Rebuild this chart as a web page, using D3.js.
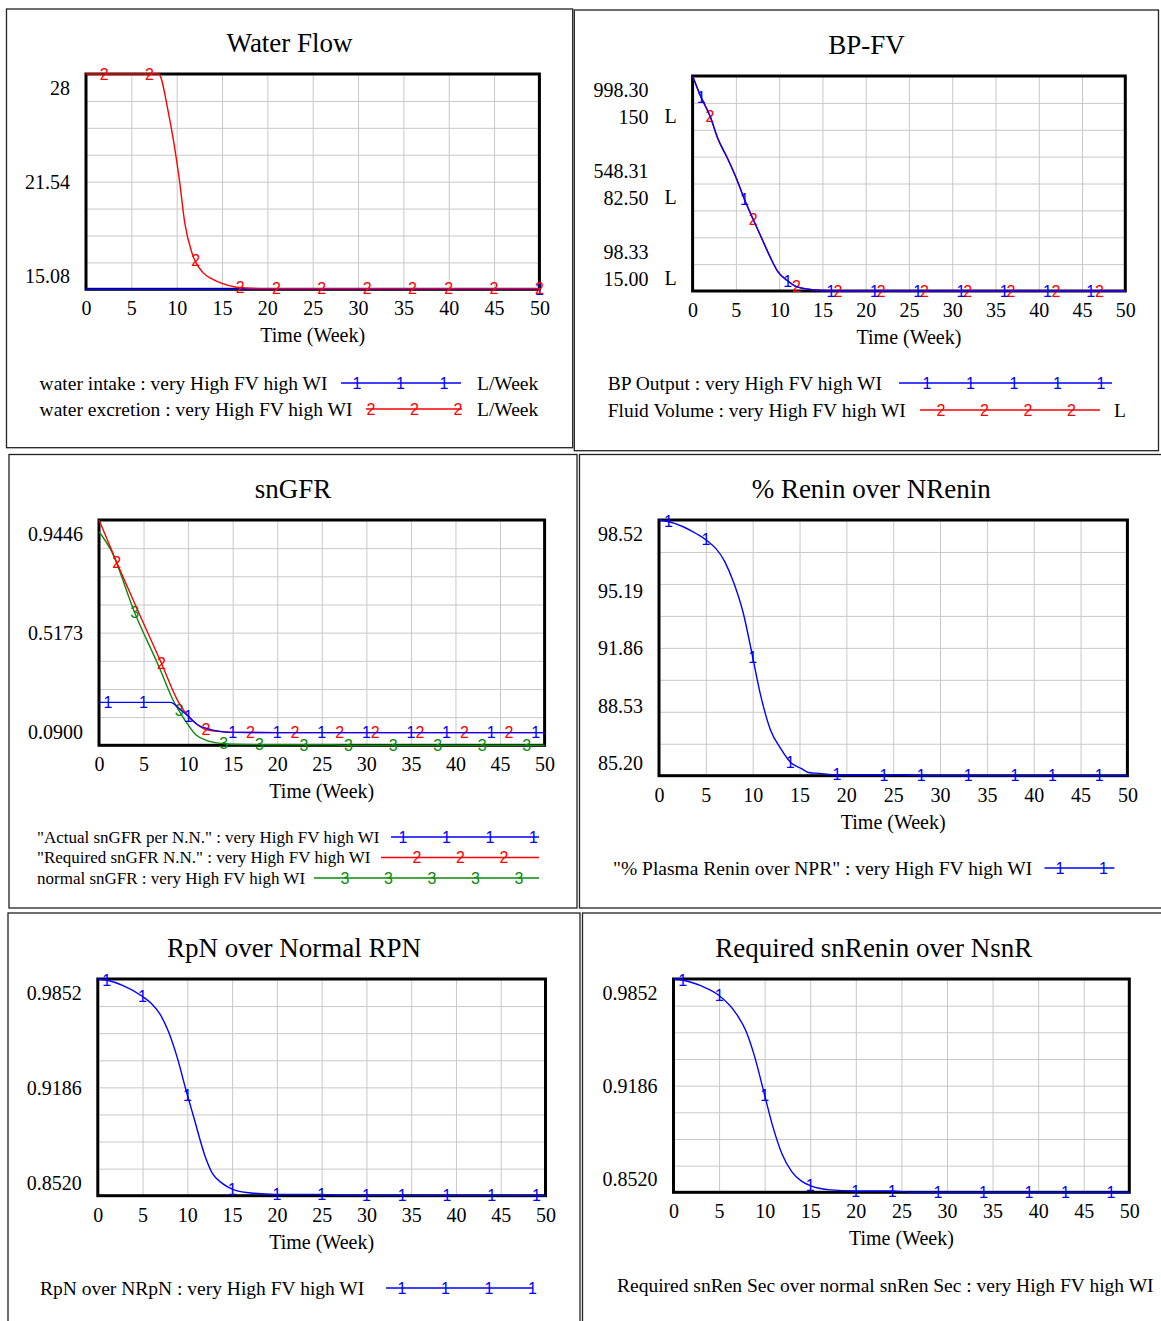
<!DOCTYPE html>
<html>
<head>
<meta charset="utf-8">
<title>Very High FV high WI runs</title>
<script src="https://cdn.jsdelivr.net/npm/d3@7"></script>
<style>
  body { margin: 0; background: #fff; }
</style>
</head>
<body>
<svg id="mainsvg" width="1161" height="1321"></svg>
<script>
// ---- data ----
const weekTicks = [0, 5, 10, 15, 20, 25, 30, 35, 40, 45, 50];

// Water Flow (L/Week)
const waterTickLabels = ["15.08", "21.54", "28"];
const intakeWeeks = [0, 10, 20, 30, 40, 50];
const intakeVals = [15.08, 15.08, 15.08, 15.08, 15.08, 15.08];
const intakeMarks = [50];
const excretionWeeks = [0, 8, 9.1, 9.7, 10.3, 10.9, 11.7, 12.9, 14, 15, 16.6, 18, 20, 30, 40, 50];
const excretionVals = [28, 28, 25.64, 23.84, 21.64, 19.04, 17.24, 16.08, 15.68, 15.44, 15.2, 15.14, 15.12, 15.12, 15.12, 15.12];
const excretionMarks = [2, 7, 12.1, 17, 21, 26, 31, 36, 40, 45, 50];

// BP-FV
const bpTickLabels = ["98.33", "548.31", "998.30"];
const fvTickLabels = ["15.00", "82.50", "150"];
const bpWeeks = [0, 0.95, 2.04, 2.9, 4.0, 5.1, 5.95, 7.03, 8.1, 9.0, 9.85, 10.9, 12.0, 13.8, 16, 20, 30, 40, 50];
const bpVals = [998.3, 911.9, 828.2, 737.3, 656.3, 566.3, 485.3, 395.3, 309.8, 237.8, 179.3, 143.3, 116.3, 103.7, 99.2, 98.33, 98.33, 98.33, 98.33];
const bpMarks = [1, 6, 11, 16, 21, 26, 31, 36, 41, 46];
const fvWeeks = [0, 0.95, 2.04, 2.9, 4.0, 5.1, 5.95, 7.03, 8.1, 9.0, 9.85, 10.9, 12.0, 13.8, 16, 20, 30, 40, 50];
const fvVals = [150, 137.0, 124.5, 110.9, 98.7, 85.2, 73.1, 59.6, 46.7, 35.9, 27.2, 21.8, 17.7, 15.8, 15.1, 15, 15, 15, 15];
const fvMarks = [2, 7, 12, 16.8, 21.8, 26.8, 31.8, 36.8, 42, 47];

// snGFR
const gfrTickLabels = ["0.0900", "0.5173", "0.9446"];
const actualWeeks = [0, 8, 9.2, 10.05, 11.1, 12.1, 13.5, 15, 20, 30, 40, 50];
const actualVals = [0.253, 0.253, 0.224, 0.199, 0.167, 0.154, 0.143, 0.139, 0.138, 0.138, 0.138, 0.138];
const actualMarks = [1, 5, 10, 15, 20, 25, 30, 35, 39, 44, 49];
const requiredWeeks = [0, 1.95, 4.24, 6.93, 9.0, 10.05, 11.1, 11.9, 13.8, 15, 20, 30, 40, 50];
const requiredVals = [0.9446, 0.787, 0.61, 0.407, 0.249, 0.199, 0.167, 0.151, 0.142, 0.139, 0.138, 0.138, 0.138, 0.138];
const requiredMarks = [2, 7, 12, 17, 22, 27, 31, 36, 41, 46];
const normalWeeks = [0, 1.33, 4.03, 6.73, 8.39, 9.63, 10.9, 12.1, 13.8, 16, 20, 26, 28, 40, 50];
const normalVals = [0.9, 0.831, 0.591, 0.388, 0.256, 0.186, 0.129, 0.108, 0.097, 0.093, 0.092, 0.092, 0.09, 0.09, 0.09];
const normalMarks = [4, 9, 14, 18, 23, 28, 33, 38, 43, 48];

// % Renin over NRenin
const reninTickLabels = ["85.20", "88.53", "91.86", "95.19", "98.52"];
const reninWeeks = [0, 1.07, 4.05, 5.04, 7.02, 8.0, 9.0, 9.92, 10.8, 11.9, 12.98, 14.05, 15.16, 15.95, 17.1, 19.1, 25.9, 27.9, 50];
const reninVals = [98.52, 98.43, 97.79, 97.48, 96.35, 95.22, 93.66, 91.57, 89.49, 87.58, 86.62, 85.89, 85.58, 85.37, 85.32, 85.25, 85.25, 85.2, 85.2];
const reninMarks = [1, 5, 10, 14, 19, 24, 28, 33, 38, 42, 47];

// RpN over Normal RPN
const rpnTickLabels = ["0.8520", "0.9186", "0.9852"];
const rpnWeeks = [0, 1.04, 2.83, 5.04, 5.96, 7, 7.9, 8.9, 9.9, 10.75, 12, 12.8, 13.9, 15, 16.6, 19.9, 24.9, 27, 50];
const rpnVals = [0.9852, 0.9844, 0.9811, 0.9743, 0.9703, 0.9631, 0.9528, 0.9364, 0.9159, 0.8996, 0.876, 0.8657, 0.8596, 0.8561, 0.854, 0.8528, 0.8528, 0.8522, 0.852];
const rpnMarks = [1, 5, 10, 15, 20, 25, 30, 34, 39, 44, 49];

// Required snRenin over NsnR
const snrTickLabels = ["0.8520", "0.9186", "0.9852"];
const snrWeeks = [0, 0.94, 2.98, 4.93, 6.85, 7.95, 8.9, 9.9, 10.9, 11.87, 12.97, 14, 15, 17.25, 19.9, 24, 26.2, 50];
const snrVals = [0.9852, 0.9846, 0.981, 0.9752, 0.9638, 0.9527, 0.9367, 0.9149, 0.893, 0.8764, 0.8649, 0.8591, 0.8562, 0.8535, 0.8528, 0.8528, 0.852, 0.852];
const snrMarks = [1, 5, 10, 15, 20, 24, 29, 34, 39, 43, 48];

const BLUE = "#0000ff", RED = "#ff0000", GREEN = "#0a8a0a";
const SERIF = "'Liberation Serif', 'Times New Roman', serif";
const SANS = "'Liberation Sans', Arial, sans-serif";
const MARK_FS = 16;

const svg = d3.select("#mainsvg");

// value on a series at week t (for placing the number markers)
function valueAt(weeks, vals, t) {
    const i = Math.max(1, Math.min(weeks.length - 1, d3.bisectLeft(weeks, t)));
    const t0 = weeks[i - 1], t1 = weeks[i];
    const k = t1 === t0 ? 0 : (t - t0) / (t1 - t0);
    return vals[i - 1] + k * (vals[i] - vals[i - 1]);
}

function drawPanel(cfg) {
    const g = svg.append("g");
    const p = cfg.plot;
    const [bx0, by0, bx1, by1] = cfg.box;

    g.append("rect")
        .attr("x", bx0).attr("y", by0)
        .attr("width", bx1 - bx0).attr("height", by1 - by0)
        .attr("fill", "none").attr("stroke", "#222").attr("stroke-width", 1.3);

    g.append("text")
        .attr("x", (bx0 + bx1) / 2).attr("y", p.t - 31).attr("dy", "0.35em")
        .attr("text-anchor", "middle")
        .attr("font-family", SERIF).attr("font-size", 27)
        .text(cfg.title);

    const x = d3.scaleLinear([0, 50], [p.l, p.r]);
    const y = d3.scaleLinear(cfg.domain, [p.b, p.t]);
    const [d0, d1] = cfg.domain;
    const levels = d3.range(9).map(i => d0 + i * (d1 - d0) / 8);

    // grid
    g.append("g")
        .attr("transform", `translate(0,${p.b})`)
        .call(d3.axisBottom(x).tickValues(weekTicks).tickSize(-(p.b - p.t)).tickFormat(""))
        .call(a => a.select(".domain").remove())
        .call(a => a.selectAll("line").attr("stroke", "#c8c8c8").attr("stroke-width", 1));
    g.append("g")
        .attr("transform", `translate(${p.l},0)`)
        .call(d3.axisLeft(y).tickValues(levels).tickSize(-(p.r - p.l)).tickFormat(""))
        .call(a => a.select(".domain").remove())
        .call(a => a.selectAll("line").attr("stroke", "#c8c8c8").attr("stroke-width", 1));

    // x tick labels
    g.append("g")
        .attr("transform", `translate(0,${p.b})`)
        .call(d3.axisBottom(x).tickValues(weekTicks).tickSize(0).tickFormat(d3.format("d")))
        .call(a => a.select(".domain").remove())
        .call(a => a.selectAll("text")
            .attr("y", 19).attr("dy", "0.35em")
            .attr("font-family", SERIF).attr("font-size", 20).attr("fill", "#000"));

    g.append("text")
        .attr("x", (p.l + p.r) / 2).attr("y", p.b + 46).attr("dy", "0.35em")
        .attr("text-anchor", "middle")
        .attr("font-family", SERIF).attr("font-size", 20)
        .text("Time (Week)");

    // y tick labels: top one hangs below the top edge, bottom one sits above the bottom edge
    cfg.yLabels.forEach(lab => {
        const ys = d3.scaleLinear(lab.domain, [p.b, p.t]);
        const span = lab.domain[1] - lab.domain[0];
        const off = d => lab.k * (2 * (d - lab.domain[0]) / span - 1) + lab.shift;
        const ax = g.append("g")
            .attr("transform", `translate(${p.l},0)`)
            .call(d3.axisLeft(ys).tickValues(lab.labels.map(Number))
                .tickFormat((d, i) => lab.labels[i]).tickSize(0).tickPadding(lab.pad))
            .call(a => a.select(".domain").remove());
        ax.selectAll("text")
            .attr("dy", d => off(d) + 7)
            .attr("font-family", SERIF).attr("font-size", 20).attr("fill", "#000");
        if (lab.unit) {
            lab.labels.forEach(s => {
                g.append("text")
                    .attr("x", p.l - 28).attr("y", ys(+s) + off(+s) + 7)
                    .attr("font-family", SERIF).attr("font-size", 20)
                    .text(lab.unit);
            });
        }
    });

    // frame
    g.append("rect")
        .attr("x", p.l).attr("y", p.t)
        .attr("width", p.r - p.l).attr("height", p.b - p.t)
        .attr("fill", "none").attr("stroke", "#000").attr("stroke-width", 3);

    // series
    cfg.series.forEach(s => {
        const ys = s.domain ? d3.scaleLinear(s.domain, [p.b, p.t]) : y;
        const pts = s.weeks.map((w, i) => [w, s.vals[i]]);
        g.append("path")
            .datum(pts)
            .attr("fill", "none").attr("stroke", s.color).attr("stroke-width", 1.4)
            .attr("d", d3.line().x(d => x(d[0])).y(d => ys(d[1])).curve(d3.curveMonotoneX));
        g.append("g").selectAll("text")
            .data(s.marks)
            .join("text")
            .attr("x", t => x(t))
            .attr("y", t => ys(valueAt(s.weeks, s.vals, t)))
            .attr("dy", "0.36em")
            .attr("text-anchor", "middle")
            .attr("font-family", SANS).attr("font-size", MARK_FS)
            .attr("fill", s.color)
            .text(s.sym);
    });

    // legend
    const lg = cfg.legend;
    lg.rows.forEach(r => {
        g.append("text")
            .attr("x", lg.x).attr("y", r.y).attr("dy", "0.35em")
            .attr("font-family", SERIF).attr("font-size", lg.fs)
            .text(r.name);
        if (r.x1 !== undefined) {
            g.append("line")
                .attr("x1", r.x1).attr("x2", r.x2).attr("y1", r.y).attr("y2", r.y)
                .attr("stroke", r.color).attr("stroke-width", 1.4);
            g.append("g").selectAll("text")
                .data(d3.range(r.n))
                .join("text")
                .attr("x", i => r.m0 + i * 43.5).attr("y", r.y).attr("dy", "0.36em")
                .attr("text-anchor", "middle")
                .attr("font-family", SANS).attr("font-size", MARK_FS)
                .attr("fill", r.color)
                .text(r.sym);
        }
        if (r.unit) {
            g.append("text")
                .attr("x", r.ux).attr("y", r.y).attr("dy", "0.35em")
                .attr("font-family", SERIF).attr("font-size", lg.fs)
                .text(r.unit);
        }
    });
}

const tag = " : very High FV high WI";

drawPanel({
    title: "Water Flow",
    box: [6.5, 9, 572.7, 447.7],
    plot: {l: 86, r: 539.4, t: 74, b: 289.3},
    domain: [15.08, 28],
    yLabels: [{labels: waterTickLabels, domain: [15.08, 28], k: 13.5, shift: 0, pad: 16}],
    series: [
        {weeks: intakeWeeks, vals: intakeVals, marks: intakeMarks, color: BLUE, sym: "1"},
        {weeks: excretionWeeks, vals: excretionVals, marks: excretionMarks, color: RED, sym: "2"}
    ],
    legend: {x: 39.6, fs: 19.5, rows: [
        {name: "water intake" + tag, y: 383, color: BLUE, sym: "1", x1: 341, x2: 461, m0: 357, n: 3, unit: "L/Week", ux: 477},
        {name: "water excretion" + tag, y: 409, color: RED, sym: "2", x1: 366, x2: 462, m0: 371, n: 3, unit: "L/Week", ux: 477}
    ]}
});

drawPanel({
    title: "BP-FV",
    box: [574.3, 10, 1158.5, 450.7],
    plot: {l: 692.6, r: 1125.3, t: 76, b: 291},
    domain: [98.33, 998.3],
    yLabels: [
        {labels: bpTickLabels, domain: [98.33, 998.3], k: 26.5, shift: -13.5, pad: 44},
        {labels: fvTickLabels, domain: [15, 150], k: 26.5, shift: 13.5, pad: 44, unit: "L"}
    ],
    series: [
        {weeks: fvWeeks, vals: fvVals, marks: fvMarks, color: RED, sym: "2", domain: [15, 150]},
        {weeks: bpWeeks, vals: bpVals, marks: bpMarks, color: BLUE, sym: "1"}
    ],
    legend: {x: 607.7, fs: 19.5, rows: [
        {name: "BP Output" + tag, y: 383, color: BLUE, sym: "1", x1: 899, x2: 1112, m0: 927, n: 5},
        {name: "Fluid Volume" + tag, y: 410, color: RED, sym: "2", x1: 920, x2: 1100, m0: 941, n: 4, unit: "L", ux: 1114}
    ]}
});

drawPanel({
    title: "snGFR",
    box: [9, 454.5, 577, 908],
    plot: {l: 99, r: 544.6, t: 520, b: 745.3},
    domain: [0.09, 0.9446],
    yLabels: [{labels: gfrTickLabels, domain: [0.09, 0.9446], k: 13.5, shift: 0, pad: 16}],
    series: [
        {weeks: normalWeeks, vals: normalVals, marks: normalMarks, color: GREEN, sym: "3"},
        {weeks: requiredWeeks, vals: requiredVals, marks: requiredMarks, color: RED, sym: "2"},
        {weeks: actualWeeks, vals: actualVals, marks: actualMarks, color: BLUE, sym: "1"}
    ],
    legend: {x: 37, fs: 17, rows: [
        {name: "\"Actual snGFR per N.N.\"" + tag, y: 837, color: BLUE, sym: "1", x1: 391, x2: 539, m0: 403, n: 4},
        {name: "\"Required snGFR N.N.\"" + tag, y: 857.5, color: RED, sym: "2", x1: 381, x2: 539, m0: 417, n: 3},
        {name: "normal snGFR" + tag, y: 878, color: GREEN, sym: "3", x1: 314, x2: 539, m0: 345, n: 5}
    ]}
});

drawPanel({
    title: "% Renin over NRenin",
    box: [579.5, 454.5, 1163, 908],
    plot: {l: 659, r: 1127.4, t: 520, b: 775.7},
    domain: [85.2, 98.52],
    yLabels: [{labels: reninTickLabels, domain: [85.2, 98.52], k: 13.5, shift: 0, pad: 16}],
    series: [
        {weeks: reninWeeks, vals: reninVals, marks: reninMarks, color: BLUE, sym: "1"}
    ],
    legend: {x: 613, fs: 19.5, rows: [
        {name: "\"% Plasma Renin over NPR\"" + tag, y: 868, color: BLUE, sym: "1", x1: 1044.5, x2: 1114.4, m0: 1060, n: 2}
    ]}
});

drawPanel({
    title: "RpN over Normal RPN",
    box: [8, 913, 580, 1330],
    plot: {l: 97.8, r: 545.5, t: 979, b: 1195.7},
    domain: [0.852, 0.9852],
    yLabels: [{labels: rpnTickLabels, domain: [0.852, 0.9852], k: 13.5, shift: 0, pad: 16}],
    series: [
        {weeks: rpnWeeks, vals: rpnVals, marks: rpnMarks, color: BLUE, sym: "1"}
    ],
    legend: {x: 40, fs: 19.5, rows: [
        {name: "RpN over NRpN" + tag, y: 1288, color: BLUE, sym: "1", x1: 386, x2: 533, m0: 402, n: 4}
    ]}
});

drawPanel({
    title: "Required snRenin over NsnR",
    box: [582.5, 913, 1165, 1330],
    plot: {l: 673.5, r: 1129.3, t: 979, b: 1192.3},
    domain: [0.852, 0.9852],
    yLabels: [{labels: snrTickLabels, domain: [0.852, 0.9852], k: 13.5, shift: 0, pad: 16}],
    series: [
        {weeks: snrWeeks, vals: snrVals, marks: snrMarks, color: BLUE, sym: "1"}
    ],
    legend: {x: 617, fs: 19.5, rows: [
        {name: "Required snRen Sec over normal snRen Sec" + tag, y: 1285}
    ]}
});
</script>
</body>
</html>
